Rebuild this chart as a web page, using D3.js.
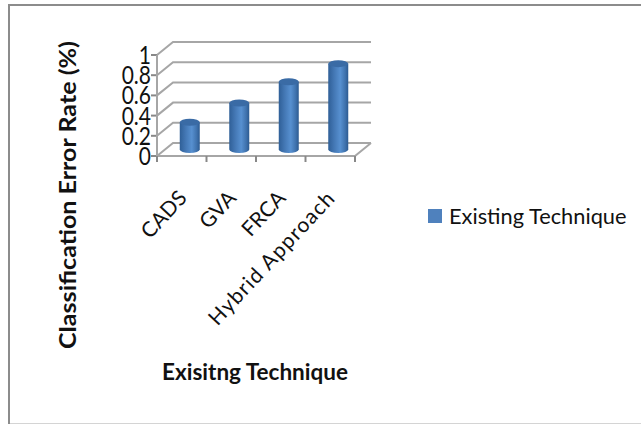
<!DOCTYPE html>
<html><head><meta charset="utf-8">
<script src="https://cdn.jsdelivr.net/npm/d3@7"></script>
<style>html,body{margin:0;padding:0;background:#fff}svg{display:block}text{font-family:Lato,"Open Sans",sans-serif;fill:#111}</style>
</head><body><svg id="c" width="641" height="424"></svg>
<script>
const categories=["CADS","GVA","FRCA","Hybrid Approach"];
const values=[0.27,0.46,0.67,0.85];
const yTicks=[0,0.2,0.4,0.6,0.8,1];
const seriesName="Existing Technique";
const xTitle="Exisitng Technique";
const yTitle="Classification Error Rate (%)";
const svg=d3.select("#c");
const W=641,H=424,dx=16,dy=-13;
svg.append("path").attr("d",`M9,${H}V5H${W}`).attr("fill","none").attr("stroke","#8c8c8c").attr("stroke-width",2);
svg.append("path").attr("d",`M10,${H-0.5}H${W}`).attr("fill","none").attr("stroke","#d4d4d4").attr("stroke-width",1);
const x=d3.scaleBand().domain(categories).range([157,355]).padding(0);
const y=d3.scaleLinear().domain([0,1]).range([156,55]);
const defs=svg.append("defs");
const g=defs.append("linearGradient").attr("id","cyl");
[[0,"#2f5f97"],[.3,"#4478b5"],[.6,"#5790d0"],[.85,"#3f72ad"],[1,"#2c5a90"]].forEach(s=>g.append("stop").attr("offset",s[0]).attr("stop-color",s[1]));
const grid="#a6a6a6";
const gl=svg.append("g").attr("stroke",grid).attr("stroke-width",2).attr("fill","none");
yTicks.forEach(t=>{
  gl.append("path").attr("d",`M${x.range()[0]},${y(t)}l${dx},${dy}H${x.range()[1]+dx}`);
  gl.append("path").attr("d",`M${x.range()[0]-6},${y(t)}h6`).attr("stroke","#888");
});
gl.append("path").attr("d",`M157,55V156H355l${dx},${dy}`);
categories.concat([null]).forEach((c,i)=>{
  const px=c?x(c):x.range()[1];
  gl.append("path").attr("d",`M${px},156v6`).attr("stroke","#888");
});
svg.append("g").selectAll("text").data(yTicks).join("text")
 .attr("transform",t=>`translate(151,${y(t)+9}) scale(1,1.2)`).attr("text-anchor","end").attr("font-size",21).text(t=>String(t));
const bw=20, cyOff=-6.5, cxOff=8, ry=3.5;
const bars=svg.append("g").selectAll("g").data(categories).join("g");
bars.append("path").attr("fill","url(#cyl)").attr("d",(c,i)=>{
  const cx=x(c)+x.bandwidth()/2+cxOff, b=y(0)+cyOff, t=y(values[i])+cyOff;
  return `M${cx-bw/2},${t}V${b}A${bw/2},${ry} 0 0 0 ${cx+bw/2},${b}V${t}Z`;
});
bars.append("ellipse").attr("fill","#3a6ba5")
 .attr("cx",c=>x(c)+x.bandwidth()/2+cxOff).attr("cy",(c,i)=>y(values[i])+cyOff).attr("rx",bw/2).attr("ry",ry);
svg.append("g").selectAll("text").data(categories).join("text")
 .attr("text-anchor","end").attr("font-size",21).attr("letter-spacing",c=>c.length>6?1.2:0)
 .attr("transform",c=>`translate(${x(c)+31},199) rotate(-47)`).text(c=>c);
svg.append("text").attr("x",255).attr("y",380).attr("text-anchor","middle").attr("font-size",22.5).attr("font-weight",700).text(xTitle);
svg.append("text").attr("transform","translate(76,195) rotate(-90) scale(1.116,1)").attr("text-anchor","middle").attr("font-size",22.5).attr("font-weight",700).text(yTitle);
svg.append("rect").attr("x",428).attr("y",209).attr("width",14).attr("height",14).attr("fill","#4f81bd");
svg.append("text").attr("x",449).attr("y",224).attr("font-size",21.8).attr("fill","#222").text(seriesName);
</script></body></html>
